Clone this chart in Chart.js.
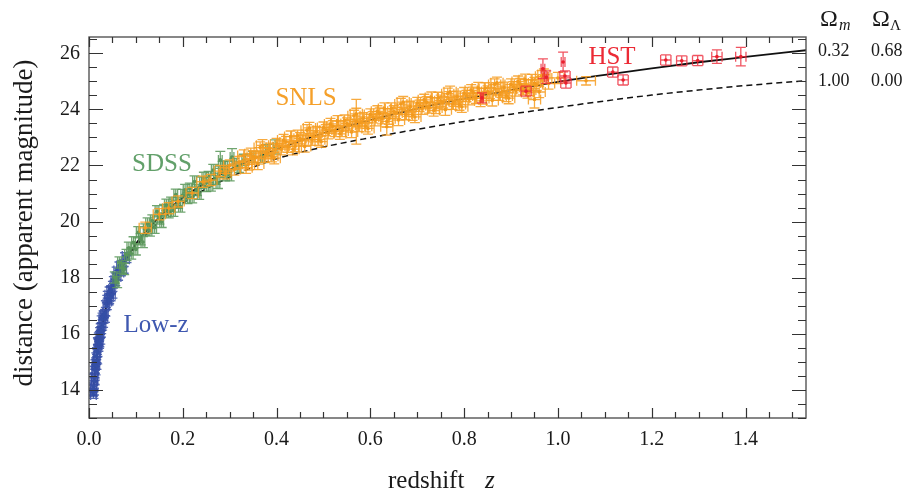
<!DOCTYPE html>
<html>
<head>
<meta charset="utf-8">
<script src="https://cdn.jsdelivr.net/npm/chart.js@4.4.1/dist/chart.umd.min.js"></script>
<style>
html,body{margin:0;padding:0;background:#fff}
canvas{display:block}
</style>
</head>
<body>
<canvas id="chartHubble" width="905" height="492"></canvas>
<script>
// axis ranges / ticks
const xMin = 0, xMax = 1.529;
const yMin = 13.0, yMax = 26.58;
const xTicks = [0, 0.2, 0.4, 0.6, 0.8, 1.0, 1.2, 1.4];
const yTicks = [14, 16, 18, 20, 22, 24, 26];

// model curves
const curveZ   = [0.009,0.01,0.02,0.03,0.05,0.07,0.1,0.15,0.2,0.25,0.3,0.35,0.4,0.5,0.6,0.7,0.8,0.9,1.0,1.1,1.2,1.3,1.4,1.53];
const lcdmMag  = [13.85,14.08,15.59,16.49,17.63,18.40,19.21,20.16,20.85,21.39,21.85,22.23,22.57,23.15,23.62,24.03,24.38,24.69,24.98,25.23,25.46,25.68,25.87,26.11];
const edsMag   = [13.85,14.07,15.57,16.46,17.58,18.33,19.11,20.01,20.66,21.17,21.58,21.94,22.24,22.66,22.99,23.29,23.57,23.83,24.07,24.30,24.51,24.69,24.85,25.02];

// supernovae: [z, mag, magErr?, zErr?]
const lowz = [[0.0085,13.9],[0.009,14.05],[0.0095,13.82],[0.010,14.13],[0.0105,13.94],[0.011,14.44],[0.0115,14.33],[0.012,14.73],[0.012,14.3],[0.0125,14.47],[0.013,14.85],[0.0135,14.95],[0.014,14.66],[0.015,15.02],[0.0155,15.2],[0.016,14.85],[0.017,15.39],[0.0175,15.05],[0.018,15.32],[0.019,15.74],[0.0195,15.7],[0.020,15.5],[0.021,15.91],[0.0215,15.6],[0.022,15.66],[0.023,15.96],[0.0235,16.1],[0.024,15.75],[0.025,16.24],[0.0255,16.0],[0.026,16.13],[0.027,16.52],[0.028,16.25],[0.029,16.62],[0.030,16.35],[0.031,16.7],[0.032,16.69],[0.034,16.53],[0.035,16.75],[0.036,17.06],[0.038,16.98],[0.039,17.25],[0.040,17.39],[0.042,17.15],[0.043,17.2],[0.044,17.55],[0.046,17.3],[0.047,17.55],[0.048,17.6],[0.050,17.39],[0.051,17.75],[0.053,17.92],[0.056,17.84],[0.057,18.05],[0.059,18.26],[0.062,18.03],[0.065,18.44],[0.068,18.19],[0.071,18.49],[0.074,18.28],[0.077,18.77],[0.080,18.66]];
const sdss = [[0.055,18.01],[0.06,17.85],[0.065,18.54],[0.07,18.35],[0.075,18.31],[0.08,18.81],[0.085,19.07],[0.09,18.86],[0.095,19.26],[0.10,19.01],[0.105,19.62],[0.11,19.37],[0.115,19.27],[0.12,19.72],[0.125,19.93],[0.13,19.68],[0.135,20.04],[0.14,19.78],[0.145,20.37],[0.15,20.11],[0.155,19.99],[0.16,20.41],[0.165,20.6],[0.17,20.33],[0.175,20.67],[0.18,20.39],[0.185,20.96],[0.19,20.67],[0.195,20.54],[0.20,20.95],[0.205,21.13],[0.21,20.84],[0.215,21.17],[0.22,20.87],[0.225,21.43],[0.23,21.13],[0.235,20.99],[0.24,21.39],[0.245,21.56],[0.25,21.27],[0.255,21.59],[0.26,21.29],[0.265,21.84],[0.27,21.53],[0.275,21.38],[0.28,21.78],[0.28,22.2,0.3],[0.285,21.95],[0.29,21.65],[0.295,21.96],[0.30,21.65],[0.305,22.3,0.3],[0.31,22.05],[0.32,21.95],[0.33,22.2],[0.35,22.3],[0.37,22.3],[0.38,22.55],[0.397,22.66,0.25]];
const snls = [[0.12,19.78],[0.15,20.26],[0.17,20.48],[0.19,20.72],[0.22,21.02],[0.243,21.42],[0.26,21.48],[0.28,21.8],[0.29,21.72],[0.30,22.0],[0.31,21.86],[0.32,22.12],
  [0.33,22.36],[0.335,21.92],[0.34,22.04],[0.345,22.42],[0.35,22.33],[0.355,22.29],[0.36,22.05],[0.365,22.64],[0.37,22.72],[0.375,22.31],[0.38,22.44],[0.385,22.6],[0.39,22.33],[0.395,22.26],[0.40,22.77],[0.405,22.68],[0.41,22.58],[0.415,22.91],[0.42,22.84],[0.425,22.67],[0.43,23.03],[0.435,22.58],[0.44,22.69],[0.445,23.06],[0.45,22.97],[0.455,22.92],[0.46,22.68],[0.465,23.26],[0.47,23.34],[0.475,22.92],[0.48,23.04],[0.485,23.19],[0.49,22.92],[0.495,22.85],[0.50,23.35],[0.505,23.26],[0.51,23.15],[0.515,23.48],[0.52,23.4],[0.525,23.23],[0.53,23.58],[0.535,23.13],[0.54,23.23],[0.545,23.6],[0.55,23.5],[0.555,23.44],[0.56,23.19],[0.565,23.77],
  [0.57,23.84],[0.57,23.56,0.8],[0.575,23.41],[0.58,23.53],[0.585,23.68],[0.59,23.4],[0.595,23.32],[0.60,23.82],[0.605,23.72],[0.61,23.61],[0.615,23.93],[0.62,23.85],[0.625,23.68],[0.63,24.03],[0.635,23.57],[0.635,23.38,0.3],[0.64,23.67],[0.645,24.03],[0.65,23.93],[0.655,23.87],[0.66,23.62],[0.665,24.19],[0.67,24.26],[0.675,23.83],[0.68,23.95],[0.685,24.09],[0.69,23.81],[0.695,23.73],[0.70,24.23],[0.705,24.13],[0.71,24.02],[0.715,24.34],[0.72,24.25],[0.725,24.07],[0.73,24.42],[0.735,23.96],[0.74,24.05],[0.745,24.41],[0.75,24.31],[0.755,24.25],[0.76,23.99],[0.765,24.56],
  [0.77,24.63],[0.775,24.2],[0.78,24.31],[0.785,24.45],[0.79,24.17],[0.795,24.09],[0.80,24.58],[0.805,24.48],[0.81,24.36],[0.815,24.68],[0.82,24.59],[0.825,24.41],[0.83,24.76],[0.835,24.3],[0.84,24.39],[0.845,24.75],[0.85,24.64],[0.855,24.58],[0.86,24.32],[0.865,24.89],[0.87,24.95],[0.875,24.52],[0.88,24.63],[0.885,24.77],[0.89,24.48],[0.895,24.4],[0.90,24.89],[0.905,24.79],[0.91,24.67],[0.915,24.99],[0.92,24.9],[0.925,24.72],[0.93,25.06],[0.935,24.6],[0.94,24.69],[0.945,25.05],[0.95,24.94],[0.95,24.35,0.3],[0.955,24.88],[0.96,24.62],[0.965,25.18],[0.97,25.24],[0.98,24.92],[1.0,25.12],[1.06,25.02,0.15,0.02]];
const hst = [[0.838,24.41,0.18,0.003],[0.932,24.65],[0.968,25.45,0.35,0.004],[0.975,25.15,0.22,0.004],[1.011,25.69,0.35,0.004],[1.015,25.19],[1.017,24.94],[1.117,25.33],[1.139,25.05],[1.23,25.76],[1.264,25.73],[1.298,25.74],[1.339,25.88,0.24],[1.39,25.88,0.33]];

const serif = "'Liberation Serif', 'DejaVu Serif', serif";

function sn(list, label, color, barColor, dm, dz, cap){
  return {
    label, type:'scatter', order:0,
    data: list.map(p=>({x:p[0], y:p[1]})),
    errors: list.map(p=>[p[2]||dm, p[3]||dz]),
    barColor, cap,
    pointRadius:1.8, pointBackgroundColor:color, pointBorderWidth:0, showLine:false
  };
}
function curve(mags, dash){
  return {
    type:'scatter', order:5, showLine:true,
    data: curveZ.map((z,i)=>({x:z, y:mags[i]})),
    borderColor:'#111', borderWidth: dash ? 1.5 : 1.8, borderDash: dash || [],
    pointRadius:0, cubicInterpolationMode:'monotone', fill:false
  };
}

const errorBars = {
  id:'errorBars',
  beforeDatasetDraw(chart, args){
    const ds = chart.data.datasets[args.index];
    if(!ds.errors) return;
    const {ctx, chartArea:a, scales:{x, y}} = chart;
    ctx.save();
    ctx.beginPath(); ctx.rect(a.left, a.top, a.width, a.height); ctx.clip();
    ctx.strokeStyle = ds.barColor; ctx.lineWidth = 1.3;
    const c = ds.cap;
    ds.data.forEach((p,i)=>{
      const [dm, dz] = ds.errors[i];
      const px = x.getPixelForValue(p.x), py = y.getPixelForValue(p.y);
      const y0 = y.getPixelForValue(p.y - dm), y1 = y.getPixelForValue(p.y + dm);
      const x0 = x.getPixelForValue(p.x - dz), x1 = x.getPixelForValue(p.x + dz);
      ctx.beginPath();
      ctx.moveTo(px, y0); ctx.lineTo(px, y1);
      ctx.moveTo(px-c, y0); ctx.lineTo(px+c, y0);
      ctx.moveTo(px-c, y1); ctx.lineTo(px+c, y1);
      ctx.moveTo(x0, py); ctx.lineTo(x1, py);
      ctx.moveTo(x0, py-c); ctx.lineTo(x0, py+c);
      ctx.moveTo(x1, py-c); ctx.lineTo(x1, py+c);
      ctx.stroke();
    });
    ctx.restore();
  }
};

const frame = {
  id:'frame',
  afterDraw(chart){
    const {ctx, chartArea:a, scales:{x, y}} = chart;
    ctx.save();
    // frame
    ctx.strokeStyle = '#555'; ctx.lineWidth = 1.4;
    ctx.strokeRect(a.left, a.top, a.width, a.height);
    // ticks, inward on all four sides
    ctx.strokeStyle = '#333'; ctx.lineWidth = 1.2;
    ctx.beginPath();
    for(let v = 0; v <= xMax + 1e-9; v += 0.05){
      const major = Math.abs(v/0.2 - Math.round(v/0.2)) < 1e-6;
      const len = major ? 10 : 6;
      const px = Math.round(x.getPixelForValue(v)) + 0.5;
      ctx.moveTo(px, a.bottom); ctx.lineTo(px, a.bottom - len);
      ctx.moveTo(px, a.top); ctx.lineTo(px, a.top + len);
    }
    for(let v = 13; v <= yMax + 1e-9; v += 0.5){
      const major = v % 2 === 0;
      const len = major ? 14 : 8;
      const py = Math.round(y.getPixelForValue(v)) + 0.5;
      ctx.moveTo(a.left, py); ctx.lineTo(a.left + len, py);
      ctx.moveTo(a.right, py); ctx.lineTo(a.right - len, py);
    }
    ctx.stroke();

    ctx.fillStyle = '#1a1a1a';
    // x title
    ctx.font = `25px ${serif}`;
    ctx.textBaseline = 'alphabetic'; ctx.textAlign = 'left';
    ctx.fillText('redshift', 388, 488);
    ctx.font = `italic 25px ${serif}`;
    ctx.fillText('z', 485, 488);
    // y title
    ctx.save();
    ctx.translate(32, 223); ctx.rotate(-Math.PI/2);
    ctx.textAlign = 'center'; ctx.font = `27px ${serif}`;
    ctx.fillText('distance (apparent magnitude)', 0, 0);
    ctx.restore();

    // survey labels
    ctx.font = `25px ${serif}`; ctx.textAlign = 'center';
    ctx.fillStyle = '#3f58b0'; ctx.fillText('Low-z', 156, 332);
    ctx.fillStyle = '#62a06a'; ctx.fillText('SDSS', 162, 171);
    ctx.fillStyle = '#f5a02a'; ctx.fillText('SNLS', 306, 105);
    ctx.fillStyle = '#ec2a35'; ctx.fillText('HST', 612, 64);

    // parameter table
    ctx.fillStyle = '#1a1a1a'; ctx.textAlign = 'left';
    ctx.font = `24px ${serif}`;
    ctx.fillText('\u03A9', 820, 26); ctx.fillText('\u03A9', 872, 26);
    ctx.font = `italic 16px ${serif}`; ctx.fillText('m', 839, 30);
    ctx.font = `15px ${serif}`; ctx.fillText('\u039B', 890, 30);
    ctx.font = `18px ${serif}`;
    ctx.fillText('0.32', 818, 56); ctx.fillText('0.68', 871, 56);
    ctx.fillText('1.00', 818, 86); ctx.fillText('0.00', 871, 86);
    ctx.restore();
  }
};

new Chart(document.getElementById('chartHubble'), {
  type:'scatter',
  data:{ datasets:[
    sn(hst,  'HST',   '#e8202e', 'rgba(236,40,56,0.8)', 0.18, 0.011, 5),
    sn(snls, 'SNLS',  '#f39a1e', 'rgba(246,158,36,0.88)', 0.2, 0.013, 5),
    sn(sdss, 'SDSS',  '#5a965a', 'rgba(92,152,92,0.88)', 0.2, 0.004, 5),
    sn(lowz, 'Low-z', '#344fa6', 'rgba(54,78,166,0.85)', 0.12, 0.006, 5),
    curve(lcdmMag, null),
    curve(edsMag, [6,4])
  ]},
  options:{
    responsive:false, animation:false,
    layout:{ padding:{ top:37, right:99, left:0, bottom:0 } },
    plugins:{ legend:{display:false}, tooltip:{enabled:false} },
    scales:{
      x:{ type:'linear', min:xMin, max:xMax,
          grid:{display:false, drawTicks:false}, border:{display:false},
          afterBuildTicks: s => { s.ticks = xTicks.map(v=>({value:v})); },
          afterFit: s => { s.height = 74; },
          ticks:{ autoSkip:false, maxRotation:0, padding:10, color:'#1a1a1a',
                  font:{family:serif, size:20}, callback: v => v.toFixed(1) } },
      y:{ type:'linear', min:yMin, max:yMax,
          grid:{display:false, drawTicks:false}, border:{display:false},
          afterBuildTicks: s => { s.ticks = yTicks.map(v=>({value:v})); },
          afterFit: s => { s.width = 89; },
          ticks:{ autoSkip:false, padding:9, color:'#1a1a1a',
                  font:{family:serif, size:20}, callback: v => String(v) } }
    }
  },
  plugins:[errorBars, frame]
});
</script>
</body>
</html>
